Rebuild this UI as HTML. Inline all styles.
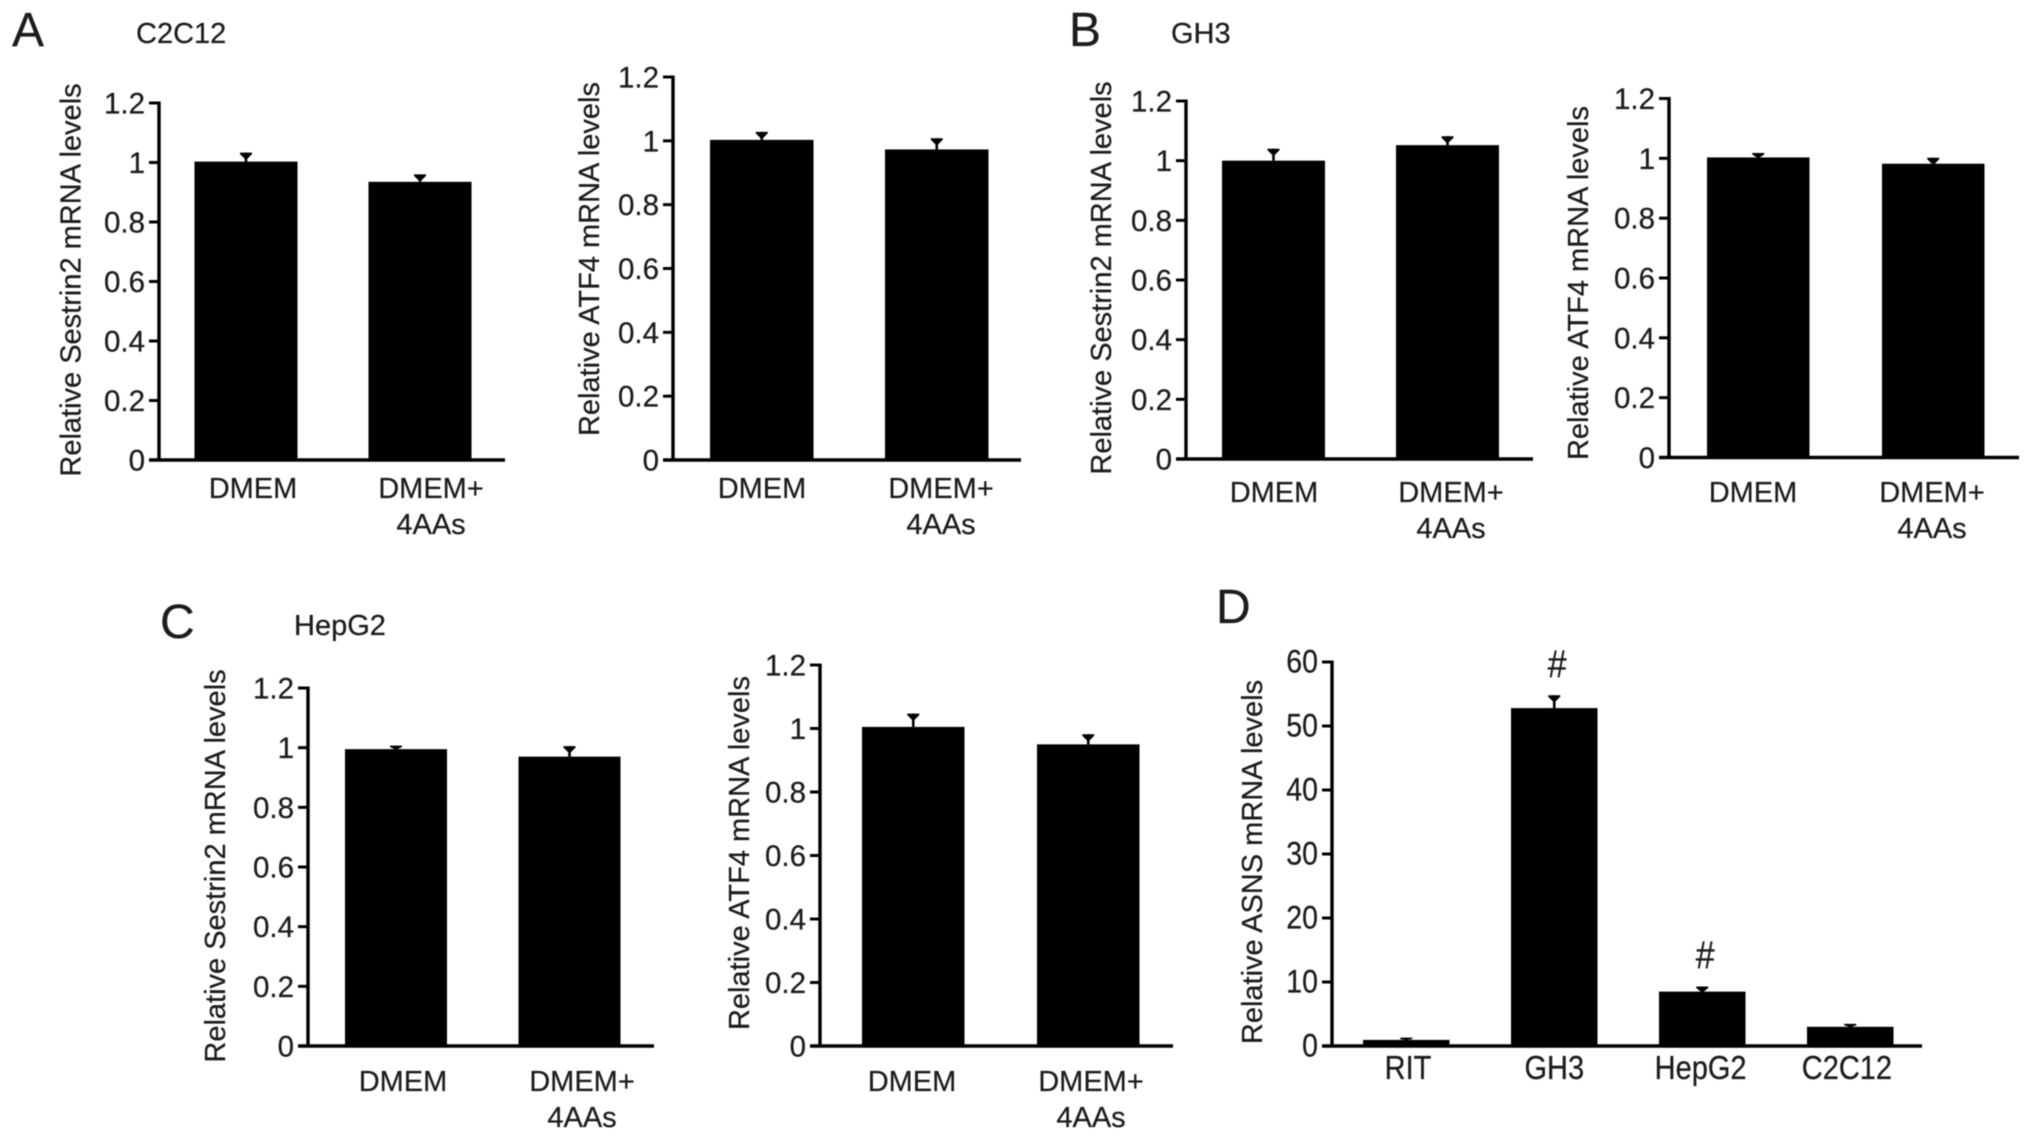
<!DOCTYPE html>
<html lang="en">
<head>
<meta charset="utf-8">
<title>Relative mRNA levels by cell line</title>
<style>
  html, body { margin: 0; padding: 0; background: #fff; }
  body { width: 2032px; height: 1141px; overflow: hidden; }
  svg { display: block; filter: blur(0.6px); }
  text { font-family: "Liberation Sans", Arial, sans-serif; fill: #1c1c1c; stroke: #1c1c1c; stroke-width: 0.25px; }
</style>
</head>
<body>
<svg id="figure" xmlns="http://www.w3.org/2000/svg" width="2032" height="1141" viewBox="0 0 2032 1141">
  <rect x="0" y="0" width="2032" height="1141" fill="#ffffff"/>
  <text x="12" y="46" font-size="48">A</text>
  <text x="136" y="43" font-size="29">C2C12</text>
  <text x="1069" y="46" font-size="48">B</text>
  <text x="1171" y="43" font-size="29">GH3</text>
  <text x="160" y="638" font-size="48">C</text>
  <text x="294" y="635" font-size="29">HepG2</text>
  <text x="1216" y="623" font-size="48">D</text>
</svg>
<script>
// Shared tick labels
const unitTickValues = [0, 0.2, 0.4, 0.6, 0.8, 1, 1.2];
const unitTickLabels = ['0', '0.2', '0.4', '0.6', '0.8', '1', '1.2'];
const asnsTickValues = [0, 10, 20, 30, 40, 50, 60];
const asnsTickLabels = ['0', '10', '20', '30', '40', '50', '60'];
const treatmentCategories = [['DMEM'], ['DMEM+', '4AAs']];
const cellLineCategories = [['RIT'], ['GH3'], ['HepG2'], ['C2C12']];

// Series values and error bars
const c2c12SestrinValues = [1.003, 0.935];
const c2c12SestrinErrors = [0.03, 0.025];
const c2c12Atf4Values = [1.003, 0.973];
const c2c12Atf4Errors = [0.025, 0.035];
const gh3SestrinValues = [1.0, 1.052];
const gh3SestrinErrors = [0.04, 0.03];
const gh3Atf4Values = [1.003, 0.982];
const gh3Atf4Errors = [0.015, 0.02];
const hepg2SestrinValues = [0.995, 0.97];
const hepg2SestrinErrors = [0.012, 0.035];
const hepg2Atf4Values = [1.005, 0.95];
const hepg2Atf4Errors = [0.042, 0.032];
const asnsValues = [0.95, 52.8, 8.5, 3.0];
const asnsErrors = [0.35, 2.0, 0.8, 0.45];
const asnsMarks = ['', '#', '#', ''];

const svgNS = 'http://www.w3.org/2000/svg';
const figure = document.getElementById('figure');

function make(tag, attrs, parent) {
  const el = document.createElementNS(svgNS, tag);
  for (const k in attrs) el.setAttribute(k, attrs[k]);
  parent.appendChild(el);
  return el;
}

function drawPanel(p) {
  const yMax = p.tickValues[p.tickValues.length - 1];
  const yScale = function (v) { return p.y0 - (v / yMax) * (p.y0 - p.yTop); };
  const xScale = function (i) { return p.barLeft + i * p.barStep; };
  const stretch = p.textStretch || 1;

  const g = make('g', {}, figure);
  
  

  // bars and error bars
  p.values.forEach(function (v, i) {
    const cx = xScale(i) + p.barWidth / 2;
    const top = yScale(v);
    const errTop = yScale(v + p.errors[i]);

    const bar = make('rect', { x: xScale(i), y: top, width: p.barWidth, height: p.y0 - top, fill: '#000' }, g);
    
    

    const stem = make('line', { x1: cx, x2: cx, y1: top, y2: errTop, stroke: '#000', 'stroke-width': 2.6 }, g);
    
    

    const capDepth = Math.min(6, top - errTop);
    const capPoints = [
      (cx - 6) + ',' + errTop,
      (cx + 6) + ',' + errTop,
      (cx + 6) + ',' + (errTop + 1.5),
      (cx + 1.5) + ',' + (errTop + capDepth),
      (cx - 1.5) + ',' + (errTop + capDepth),
      (cx - 6) + ',' + (errTop + 1.5)
    ].join(' ');
    const cap = make('polygon', { points: capPoints, fill: '#000' }, g);
    
    

    if (p.marks && p.marks[i]) {
      const mark = make('text', { transform: 'translate(' + (cx + 3) + ',' + (errTop - 18) + ') scale(1,1.15)', 'text-anchor': 'middle', 'font-size': 34 }, g);
      mark.textContent = p.marks[i];
      
      
    }
  });

  // axes
  const yAxis = make('line', { x1: p.axisX, x2: p.axisX, y1: p.yTop - 1.5, y2: p.y0 + 1.5, stroke: '#000', 'stroke-width': 3.4 }, g);
  
  

  const xAxis = make('line', { x1: p.axisX - 10, x2: p.xEnd, y1: p.y0, y2: p.y0, stroke: '#000', 'stroke-width': 3.4 }, g);
  
  

  // y ticks and labels
  p.tickValues.forEach(function (t, i) {
    const ty = yScale(t);
    const tick = make('line', { x1: p.axisX - 10, x2: p.axisX, y1: ty, y2: ty, stroke: '#000', 'stroke-width': 3 }, g);
    
    

    const label = make('text', { transform: 'translate(' + (p.axisX - 14) + ',' + (ty + 10.5) + ') scale(1,' + stretch + ')', 'text-anchor': 'end', 'font-size': p.tickFont || 29.5 }, g);
    label.textContent = p.tickLabels[i];
    
    
  });

  // category labels
  p.categories.forEach(function (lines, i) {
    lines.forEach(function (line, j) {
      const lx = p.labelLeft + i * p.labelStep;
      const ly = p.labelY + j * 36;
      const label = make('text', { transform: 'translate(' + lx + ',' + ly + ') scale(1,' + stretch + ')', 'text-anchor': 'middle', 'font-size': 29 }, g);
      label.textContent = line;
      
      
    });
  });

  // y axis title
  const title = make('text', { transform: 'translate(' + p.titleX + ',' + p.titleY + ') rotate(-90)', 'text-anchor': 'middle', 'font-size': 29 }, g);
  title.textContent = p.title;
  
  
}

drawPanel({ name: 'chart-c2c12-sestrin2', title: 'Relative Sestrin2 mRNA levels', categories: treatmentCategories, values: c2c12SestrinValues, errors: c2c12SestrinErrors, tickValues: unitTickValues, tickLabels: unitTickLabels,
  axisX: 159, y0: 460, yTop: 103, xEnd: 505, barLeft: 194.5, barWidth: 103, barStep: 174, labelLeft: 253, labelStep: 178, labelY: 498, titleX: 80.5, titleY: 280 });
drawPanel({ name: 'chart-c2c12-atf4', title: 'Relative ATF4 mRNA levels', categories: treatmentCategories, values: c2c12Atf4Values, errors: c2c12Atf4Errors, tickValues: unitTickValues, tickLabels: unitTickLabels,
  axisX: 673, y0: 460, yTop: 77, xEnd: 1021, barLeft: 710, barWidth: 103.5, barStep: 175, labelLeft: 762, labelStep: 179, labelY: 498, titleX: 599, titleY: 259 });
drawPanel({ name: 'chart-gh3-sestrin2', title: 'Relative Sestrin2 mRNA levels', categories: treatmentCategories, values: gh3SestrinValues, errors: gh3SestrinErrors, tickValues: unitTickValues, tickLabels: unitTickLabels,
  axisX: 1186, y0: 459, yTop: 101, xEnd: 1533, barLeft: 1222, barWidth: 103, barStep: 174, labelLeft: 1274, labelStep: 177, labelY: 502, titleX: 1111, titleY: 278 });
drawPanel({ name: 'chart-gh3-atf4', title: 'Relative ATF4 mRNA levels', categories: treatmentCategories, values: gh3Atf4Values, errors: gh3Atf4Errors, tickValues: unitTickValues, tickLabels: unitTickLabels,
  axisX: 1669, y0: 457.5, yTop: 98.5, xEnd: 2019, barLeft: 1707, barWidth: 102.5, barStep: 175, labelLeft: 1753, labelStep: 179, labelY: 502, titleX: 1588, titleY: 283 });
drawPanel({ name: 'chart-hepg2-sestrin2', title: 'Relative Sestrin2 mRNA levels', categories: treatmentCategories, values: hepg2SestrinValues, errors: hepg2SestrinErrors, tickValues: unitTickValues, tickLabels: unitTickLabels,
  axisX: 308, y0: 1046, yTop: 688, xEnd: 654, barLeft: 345, barWidth: 102, barStep: 173.5, labelLeft: 403, labelStep: 179, labelY: 1091, titleX: 225, titleY: 866 });
drawPanel({ name: 'chart-hepg2-atf4', title: 'Relative ATF4 mRNA levels', categories: treatmentCategories, values: hepg2Atf4Values, errors: hepg2Atf4Errors, tickValues: unitTickValues, tickLabels: unitTickLabels,
  axisX: 820, y0: 1046, yTop: 665, xEnd: 1173, barLeft: 862, barWidth: 102.5, barStep: 175, labelLeft: 912, labelStep: 179, labelY: 1091, titleX: 749, titleY: 853 });
drawPanel({ name: 'chart-asns', title: 'Relative ASNS mRNA levels', categories: cellLineCategories, values: asnsValues, errors: asnsErrors, marks: asnsMarks, tickValues: asnsTickValues, tickLabels: asnsTickLabels, tickFont: 28.5,
  axisX: 1332, y0: 1046, yTop: 662, xEnd: 1922, barLeft: 1363, barWidth: 86.5, barStep: 148, labelLeft: 1408, labelStep: 146.3, labelY: 1079, titleX: 1262, titleY: 862, textStretch: 1.15 });
</script>
</body>
</html>
